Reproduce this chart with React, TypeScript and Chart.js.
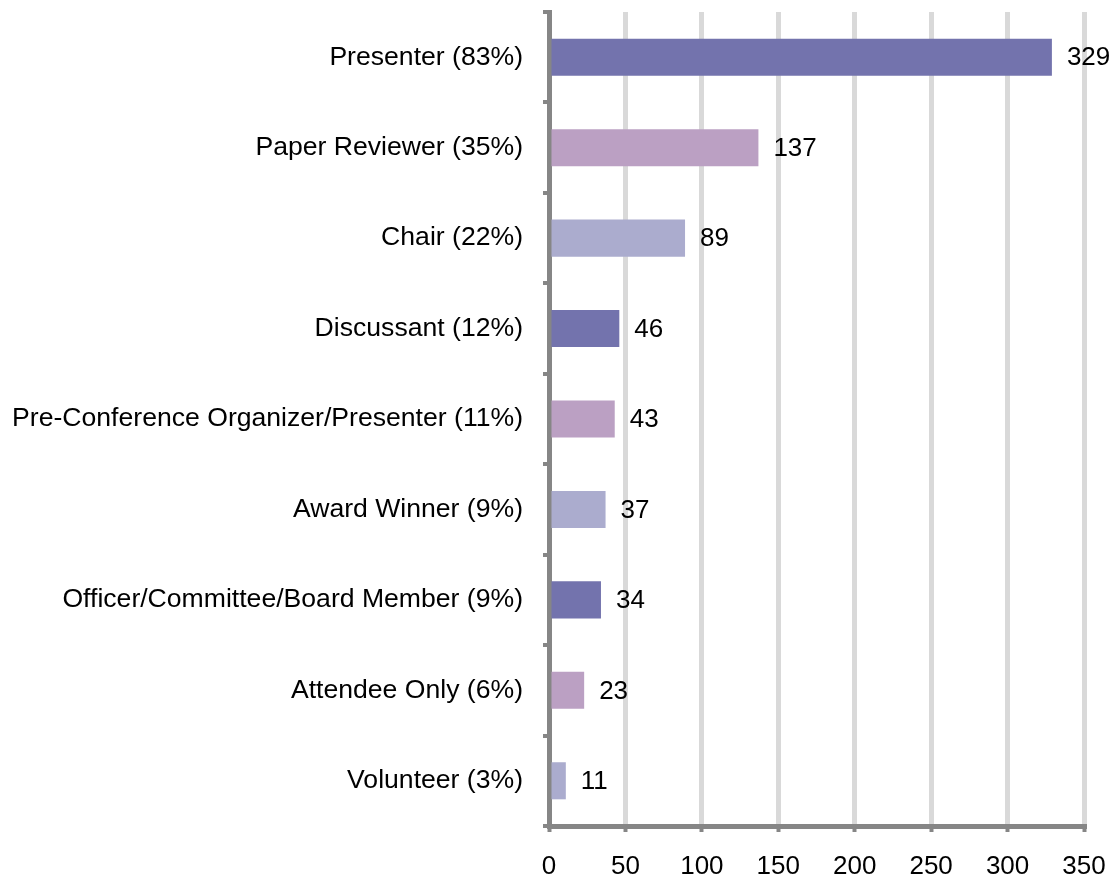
import React, { useEffect, useRef } from "react";
import { Chart, registerables } from "chart.js";

Chart.register(...registerables);

const categories = [
  "Presenter (83%)",
  "Paper Reviewer (35%)",
  "Chair (22%)",
  "Discussant (12%)",
  "Pre-Conference Organizer/Presenter (11%)",
  "Award Winner (9%)",
  "Officer/Committee/Board Member (9%)",
  "Attendee Only (6%)",
  "Volunteer (3%)",
];
const counts = [329, 137, 89, 46, 43, 37, 34, 23, 11];
const barColors = [
  "#7373ad", "#bba0c3", "#abacce",
  "#7373ad", "#bba0c3", "#abacce",
  "#7373ad", "#bba0c3", "#abacce",
];
const xMin = 0;
const xMax = 350;
const xStep = 50;

const FONT = "'Liberation Sans', Arial, sans-serif";

const valueLabels = {
  id: "valueLabels",
  afterDatasetsDraw(chart: any) {
    const ctx = chart.ctx;
    const meta = chart.getDatasetMeta(0);
    const data = chart.data.datasets[0].data;
    ctx.save();
    ctx.font = `26px ${FONT}`;
    ctx.fillStyle = "#000000";
    ctx.textAlign = "left";
    ctx.textBaseline = "middle";
    meta.data.forEach((el: any, i: number) => {
      ctx.fillText(String(data[i]), el.x + 15, el.y + 1);
    });
    ctx.restore();
  },
};

export default function App() {
  const ref = useRef<HTMLCanvasElement | null>(null);
  useEffect(() => {
    if (!ref.current) return;
    const chart = new Chart(ref.current, {
      type: "bar",
      data: {
        labels: categories,
        datasets: [
          {
            data: counts,
            backgroundColor: barColors,
            borderWidth: 0,
            barPercentage: 0.41,
            categoryPercentage: 1,
          },
        ],
      },
      plugins: [valueLabels],
      options: {
        indexAxis: "y",
        animation: false,
        responsive: false,
        maintainAspectRatio: false,
        layout: { padding: { top: 4, right: 26, bottom: 0, left: 0 } },
        plugins: {
          legend: { display: false },
          tooltip: { enabled: false },
        },
        scales: {
          x: {
            min: xMin,
            max: xMax,
            ticks: {
              stepSize: xStep,
              color: "#000000",
              font: { family: FONT, size: 26 },
              padding: 19,
            },
            grid: {
              color: "#d9d9d9",
              lineWidth: 5,
              tickColor: "#868686",
              tickLength: 6,
              tickWidth: 4,
            },
            border: { color: "#868686", width: 5 },
            afterFit: (axis: any) => {
              axis.height = 48;
              axis.paddingLeft = 0;
              axis.paddingRight = 0;
            },
          },
          y: {
            ticks: {
              color: "#000000",
              font: { family: FONT, size: 26.6 },
              padding: 20,
            },
            grid: {
              drawOnChartArea: false,
              color: "#868686",
              tickLength: 6,
              lineWidth: 4,
            },
            border: { color: "#868686", width: 5 },
            afterFit: (axis: any) => {
              axis.width = 541;
              axis.paddingTop = 0;
              axis.paddingBottom = 0;
            },
          },
        },
      },
    });
    return () => chart.destroy();
  }, []);
  return (
    <div style={{ width: 1102, height: 866 }}>
      <canvas ref={ref} width={1102} height={866} style={{ display: "block" }} />
    </div>
  );
}
